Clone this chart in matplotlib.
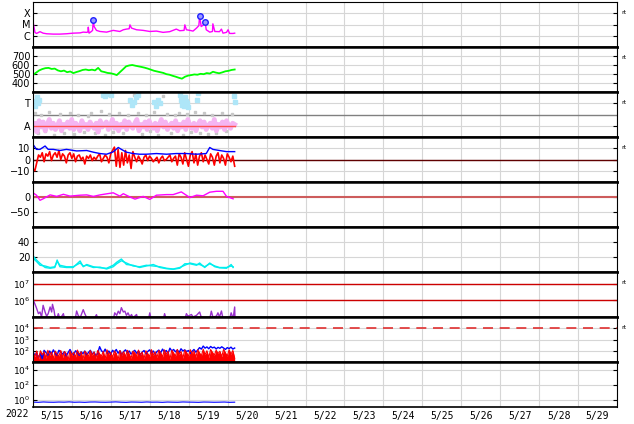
import numpy as np
import matplotlib
matplotlib.use("Agg")
import matplotlib.pyplot as plt

# ---------------- data (time in days since 2022-05-15 00:00) ----------------
day_labels = ["5/15", "5/16", "5/17", "5/18", "5/19", "5/20", "5/21", "5/22",
              "5/23", "5/24", "5/25", "5/26", "5/27", "5/28", "5/29"]
year_label = "2022"
data_end = 5.18

# X-ray flux (W/m^2)
xray_t = [0.00, 0.01, 0.05, 0.09, 0.18, 0.26, 0.35, 0.52, 0.69, 0.86, 1.03, 1.21, 1.29,
          1.38, 1.41, 1.42, 1.44, 1.50, 1.53, 1.55, 1.57, 1.63, 1.72, 1.89, 2.06, 2.23,
          2.32, 2.40, 2.47, 2.49, 2.53, 2.66, 2.83, 3.00, 3.17, 3.34, 3.51, 3.68, 3.77,
          3.88, 3.90, 3.94, 4.03, 4.11, 4.20, 4.26, 4.28, 4.32, 4.38, 4.42, 4.45, 4.54,
          4.61, 4.62, 4.67, 4.79, 4.84, 4.88, 4.97, 5.01, 5.05, 5.14, 5.18]
xray_flux = [2.2e-5, 1.2e-5, 2.0e-6, 1.6e-6, 2.3e-6, 1.7e-6, 1.5e-6, 1.4e-6, 1.4e-6, 1.5e-6,
             1.7e-6, 1.8e-6, 2.1e-6, 2.0e-6, 2.2e-6, 5.8e-6, 1.7e-6, 2.4e-6, 3.0e-6, 2.6e-5,
             6.6e-6, 3.0e-6, 2.4e-6, 2.1e-6, 3.0e-6, 2.4e-6, 3.4e-6, 3.9e-6, 4.2e-6, 9.3e-6,
             4.8e-6, 3.4e-6, 3.0e-6, 2.4e-6, 2.6e-6, 2.0e-6, 2.3e-6, 3.9e-6, 2.8e-6, 3.0e-6,
             9.3e-6, 3.4e-6, 3.0e-6, 2.6e-6, 4.8e-6, 8.0e-6, 5.8e-5, 6.6e-6, 9.3e-6, 1.6e-5,
             3.4e-6, 2.1e-6, 2.4e-6, 1.15e-5, 2.4e-6, 2.3e-6, 3.9e-6, 1.7e-6, 2.0e-6, 3.4e-6,
             1.6e-6, 1.6e-6, 1.7e-6]
flare_t = [1.55, 4.28, 4.42]
flare_flux = [2.6e-5, 5.8e-5, 1.6e-5]

# Solar wind speed (km/s)
speed = [490, 515, 540, 555, 565, 568, 556, 560, 540, 530, 538, 520, 528, 510, 522, 532,
         545, 550, 542, 548, 540, 568, 530, 522, 512, 508, 500, 488, 520, 552, 585, 595,
         600, 592, 585, 578, 570, 560, 548, 536, 528, 520, 512, 498, 492, 480, 470, 458,
         448, 470, 482, 488, 495, 492, 502, 498, 510, 505, 525, 515, 508, 518, 530, 535,
         545, 550]

# IMF phi angle (deg)
phi_away = [60, 110, 40, 130, 80, 120, 50, 100, 140, 70, 110, 60, 90, 130, 50, 100, 80, 120,
            70, 140, 60, 110, 90, 50, 130, 80, 100, 60, 120, 90, 70, 110, 40, 130, 80, 100,
            120, 60, 90, 140, 70, 110, 50, 100, 80, 130, 60, 120, 90, 70, 110, 140, 50, 100,
            80, 120, 60, 130, 90, 70, 110, 50, 100, 140, 80, 120, 60, 90, 110, 70, 130, 50,
            100, 80, 120, 60, 140, 90, 70, 110, 50, 100, 130, 80, 120, 60, 90, 110, 70, 140,
            50, 100, 80, 120, 60, 130, 90, 70, 110, 100]
gray_t = [0.05, 0.12, 0.2, 0.3, 0.4, 0.55, 0.7, 0.8, 0.95, 1.05, 1.15, 1.3, 1.4, 1.5, 1.6,
          1.75, 1.85, 1.95, 2.05, 2.2, 2.3, 2.45, 2.6, 2.7, 2.8, 2.9, 3.0, 3.1, 3.2, 3.35,
          3.45, 3.55, 3.65, 3.75, 3.85, 3.95, 4.05, 4.15, 4.3, 4.4, 4.5, 4.6, 4.7, 4.85,
          4.95, 5.1]
gray_phi = [190, 30, 175, 45, 200, 20, 185, 35, 195, 25, 180, 40, 170, 190, 30, 205, 15, 185,
            40, 195, 30, 175, 340, 190, 25, 180, 45, 200, 20, 330, 185, 35, 175, 195, 20, 185,
            40, 200, 30, 190, 25, 180, 35, 195, 45, 185]
toward_t = [0.05, 0.08, 0.1, 0.13, 0.16, 1.8, 1.85, 1.9, 2.0, 2.5, 2.55, 2.6, 2.65, 2.7,
            3.1, 3.15, 3.2, 3.25, 3.77, 3.8, 3.83, 3.86, 3.88, 3.9, 3.92, 3.95, 3.98,
            4.2, 4.25, 5.17, 5.18]
toward_phi = [250, 290, 320, 270, 300, 340, 330, 345, 335, 300, 260, 280, 320, 340,
              280, 250, 300, 270, 340, 300, 260, 280, 250, 320, 290, 270, 240, 300,
              350, 330, 280]

# IMF Bt and Bz (nT)
bt_t = [0.01, 0.09, 0.18, 0.31, 0.39, 0.52, 0.69, 0.86, 1.12, 1.38, 1.55, 1.72, 1.89, 2.06,
        2.19, 2.27, 2.40, 2.57, 2.74, 2.91, 3.17, 3.43, 3.68, 3.94, 4.20, 4.45, 4.54, 4.62,
        4.79, 4.97, 5.18]
bt = [12.9, 9, 9, 12, 9, 9, 8, 9, 7.6, 8, 6.5, 5.3, 4.7, 6.8, 10.7, 9, 6.5, 5.3, 4.7, 4.7,
      5.3, 4.7, 5.3, 5.3, 4.7, 5.3, 10.7, 9, 8, 7, 7]
bz = [-8, -10, -3, 4, 2, 6, -2, 5, 3, 7, -1, 4, 6, 2, 8, 0, 5, 3, -3, 4, 6, 1, 5, -2, 3, 4,
      0, 2, -4, 3, 1, 4, -1, 2, 0, 3, 5, -2, 1, 4, 2, -3, 5, 8, 11, -6, 9, -7, 6, -5, 8, -3,
      4, -8, 7, 2, -2, 3, 0, -4, 2, 4, -1, 3, 1, -2, 0, 2, -3, 1, 3, -1, 0, 2, 4, -2, 1, 3,
      -5, 5, 2, -4, 6, 0, -6, 4, 7, -3, 5, -5, 3, 6, -2, 4, 0, -4, 5, 2, -5, 3, 6, -3, 4, 1,
      -5, 5, 2, -2, 3, -6]

# Dst (nT)
dst_t = [0.01, 0.09, 0.18, 0.26, 0.44, 0.61, 0.78, 0.95, 1.21, 1.38, 1.55, 1.72, 2.06, 2.23,
         2.32, 2.49, 2.62, 2.83, 3.00, 3.17, 3.43, 3.60, 3.81, 4.03, 4.20, 4.37, 4.54, 4.71,
         4.88, 4.97, 5.14]
dst = [13, 6, -11, -6, 7, 2, 9, 3, 6, 7, 2, 7, 14, 3, 11, 0, -7, 2, -8, 6, 8, 8, 17, -2, 6,
       4, 16, 19, 19, 2, -6]

# Solar wind density (p/cc), two sources
dens_t = [0.01, 0.09, 0.18, 0.31, 0.44, 0.56, 0.62, 0.69, 0.86, 1.03, 1.21, 1.29, 1.38,
          1.55, 1.72, 1.89, 2.06, 2.15, 2.27, 2.40, 2.57, 2.74, 2.91, 3.09, 3.26, 3.43,
          3.60, 3.77, 3.90, 4.03, 4.20, 4.28, 4.41, 4.54, 4.67, 4.79, 4.97, 5.09, 5.14]
dens_a = [21, 16, 11.5, 6, 5, 6, 16, 7, 6, 6, 14.7, 7, 10, 7, 5.6, 5, 9, 13, 17.3, 10, 9, 6,
          8, 10, 6, 4.4, 3.6, 5, 11, 11, 9, 12, 6, 12, 7, 5.6, 5, 10, 6]
dens_b = [18, 14, 9, 8, 6, 7, 14, 9, 7, 7, 12, 8, 9, 6, 6.5, 4, 7, 11, 15, 12, 8, 7, 9, 8,
          7, 5, 4, 6, 9, 12, 10, 10, 7, 11, 8, 6, 6, 8, 7]

# >2 MeV electron flux (log10)
elec_t = [0.01, 0.08, 0.14, 0.18, 0.22, 0.26, 0.31, 0.35, 0.39, 0.44, 0.48, 0.50, 0.54,
          0.56, 0.61, 0.65, 0.69, 0.74, 0.78, 0.82, 1.08, 1.12, 1.16, 1.21, 1.29, 1.33,
          1.38, 1.55, 1.63, 1.68, 2.06, 2.10, 2.15, 2.19, 2.23, 2.27, 2.32, 2.36, 2.40,
          2.44, 2.49, 2.53, 2.57, 2.66, 2.70, 2.96, 3.00, 3.04, 3.34, 3.38, 3.43, 3.90,
          3.94, 3.98, 4.07, 4.11, 4.20, 4.28, 4.32, 4.54, 4.58, 4.62, 4.71, 4.75, 4.79,
          4.84, 4.88, 5.05, 5.09, 5.14, 5.18, 5.19]
elec_log10 = [6.0, 5.6, 5.2, 5.3, 5.0, 5.7, 5.3, 5.05, 5.2, 5.6, 5.3, 5.76, 5.4, 5.1, 4.9,
              5.2, 4.9, 5.05, 5.2, 4.8, 4.8, 5.36, 5.1, 4.95, 5.44, 5.2, 4.95, 4.8, 5.14,
              4.8, 4.85, 5.25, 5.1, 5.35, 5.2, 5.56, 5.3, 5.35, 5.1, 5.25, 5.0, 5.15, 4.95,
              5.15, 4.8, 4.8, 5.25, 4.8, 4.8, 5.2, 4.8, 4.85, 5.2, 5.05, 5.15, 5.0, 5.1,
              5.3, 5.0, 4.9, 5.35, 5.0, 5.05, 5.25, 5.0, 5.36, 4.9, 4.9, 5.25, 4.9, 5.6, 4.8]
elec_thresholds = [1e6, 1e7]

# Proton flux (two channels)
prot_red = [70, 30, 95, 18, 100, 45, 80, 22, 110, 40, 75, 20, 95, 50, 35, 105, 25, 85, 55, 16,
            98, 42, 70, 28, 115, 48, 80, 18, 90, 60, 32, 102, 40, 78, 22, 108, 52, 34, 88, 20,
            120, 45, 72, 26, 96, 58, 17, 105, 42, 82, 30, 110, 50, 22, 92, 65, 34, 115, 45,
            75, 20, 100, 56, 30, 125, 40, 80, 25, 105, 68, 28, 120, 50, 90, 18, 110, 62, 34,
            130, 48, 85, 22, 115, 70, 32, 125, 55, 95, 27, 120, 65, 36, 135, 45, 100, 25,
            128, 72, 40, 115, 56, 90, 30, 130, 66, 34, 122, 50, 105, 22]
prot_blue = [80, 40, 60, 25, 55, 20, 110, 70, 40, 95, 50, 120, 60, 40, 110, 75, 50, 85, 35,
             70, 130, 60, 45, 100, 70, 40, 80, 55, 95, 45, 70, 110, 50, 75, 35, 60, 230, 100,
             70, 140, 60, 95, 50, 110, 75, 130, 60, 100, 45, 85, 120, 70, 95, 50, 80, 110,
             60, 90, 45, 75, 105, 55, 85, 120, 70, 95, 50, 85, 115, 65, 140, 80, 105, 60,
             170, 95, 130, 80, 115, 70, 150, 95, 120, 85, 105, 60, 90, 130, 75, 115, 190,
             140, 260, 170, 220, 150, 240, 180, 210, 145, 200, 165, 225, 175, 130, 190, 155,
             210, 140, 175]
prot_threshold = 1e4

# Neutron / low flux channel
low_flux = [0.45, 0.42, 0.47, 0.44, 0.43, 0.46, 0.44, 0.48, 0.43, 0.45, 0.42, 0.46, 0.47,
            0.44, 0.43, 0.45, 0.48, 0.44, 0.42, 0.46, 0.45, 0.43, 0.47, 0.44, 0.45, 0.42,
            0.46, 0.44, 0.43, 0.47, 0.45, 0.44, 0.42, 0.46, 0.45, 0.43, 0.44, 0.46, 0.42, 0.44]

# ---------------- figure ----------------
fig = plt.figure(figsize=(6.34, 4.24), dpi=100)
gs = fig.add_gridspec(9, 1, left=33/634, right=617/634, top=1-2/424, bottom=1-407/424,
                      hspace=0)
axes = [fig.add_subplot(gs[i, 0]) for i in range(9)]

grid_c = '#d6d6d6'
for i, ax in enumerate(axes):
    ax.set_xlim(0, 15)
    ax.set_xticks(np.arange(0, 16, 1))
    ax.set_xticks(np.arange(0.5, 15, 1), minor=True)
    ax.tick_params(axis='x', which='both', length=0, labelbottom=False)
    ax.tick_params(axis='y', which='major', direction='in', length=3, right=True,
                   labelsize=7, pad=2)
    ax.tick_params(axis='y', which='minor', length=0)
    ax.grid(True, which='major', color=grid_c, lw=0.8)
    ax.set_axisbelow(True)
    ax.spines['left'].set_linewidth(0.8)
    ax.spines['right'].set_linewidth(0.8)
    ax.spines['top'].set_linewidth(0.8 if i == 0 else 1.8)
    ax.spines['bottom'].set_linewidth(1.2 if i == 8 else 1.8)

axes[-1].tick_params(axis='x', which='minor', labelbottom=True, pad=3)
axes[-1].set_xticklabels(day_labels, minor=True, fontsize=7, family='DejaVu Sans Mono')
axes[-1].text(-0.41, -0.155, year_label, transform=axes[-1].get_xaxis_transform(),
              ha='center', va='center', fontsize=7, family='DejaVu Sans Mono')

for i in [0, 1, 2, 3, 6, 7]:
    axes[i].text(1.007, 0.77, 'rt', transform=axes[i].transAxes, fontsize=4.5,
                 va='center', ha='left')

# 1 X-ray
ax = axes[0]
ax.set_yscale('log')
ax.set_ylim(1e-7, 1e-3)
ax.set_yticks([1e-6, 1e-5, 1e-4])
ax.set_yticklabels(['C', 'M', 'X'])
ax.plot(xray_t, xray_flux, color='#ff00ff', lw=1)
ax.plot(flare_t, flare_flux, ls='none', marker='o', ms=4, mfc='#9a9aff', mec='#2020ff',
        mew=1)

# 2 speed
ax = axes[1]
ax.set_ylim(300, 800)
ax.set_yticks([400, 500, 600, 700])
ax.plot(np.linspace(0, data_end, len(speed)), speed, color='#00ff00', lw=1.3)

# 3 phi
ax = axes[2]
ax.set_ylim(0, 360)
ax.set_yticks([90, 270])
ax.set_yticklabels(['A', 'T'])
ax.axhline(180, color='#808080', lw=1)
ax.plot(gray_t, gray_phi, ls='none', marker='s', ms=1.8, color='#c8c8c8')
ax.plot(np.linspace(0, data_end, len(phi_away)), phi_away, color='#f5b5f2', lw=3.5)
ax.plot(toward_t, toward_phi, ls='none', marker='s', ms=2.4, color='#aee6f8')
ax.plot([0, data_end], [90, 90], color='#ff5050', lw=1)

# 4 Bt / Bz
ax = axes[3]
ax.set_ylim(-20, 20)
ax.set_yticks([-10, 0, 10])
ax.axhline(0, color='#600000', lw=1)
ax.plot(np.linspace(0, data_end, len(bz)), bz, color='#ff0000', lw=1.2)
ax.plot(bt_t, bt, color='#0000ff', lw=1)

# 5 Dst
ax = axes[4]
ax.set_ylim(-100, 50)
ax.set_yticks([-50, 0])
ax.axhline(0, color='#cd5c5c', lw=1.5)
ax.plot(dst_t, dst, color='#ff00ff', lw=1)

# 6 density
ax = axes[5]
ax.set_ylim(0, 60)
ax.set_yticks([20, 40])
ax.plot(dens_t, dens_a, color='#00eeee', lw=1)
ax.plot(dens_t, dens_b, color='#00eeee', lw=1)

# 7 electrons
ax = axes[6]
ax.set_yscale('log')
ax.set_ylim(1e5, 5e7)
ax.set_yticks([1e6, 1e7])
for th in elec_thresholds:
    ax.axhline(th, color='#cc0000', lw=1)
ax.plot(elec_t, 10 ** np.array(elec_log10), color='#9932cc', lw=1)

# 8 protons
ax = axes[7]
ax.set_yscale('log')
ax.set_ylim(1e1, 1e5)
ax.set_yticks([1e2, 1e3, 1e4])
ax.axhline(prot_threshold, color='#e03030', lw=1.2, ls=(0, (6, 4)))
tp = np.linspace(0, data_end, len(prot_red))
ax.plot(tp, prot_blue, color='#0000ff', lw=1)
ax.fill_between(tp, 1, prot_red, color='#ff0000', lw=0)
ax.plot(tp, prot_red, color='#ff0000', lw=0.8)

# 9 low flux
ax = axes[8]
ax.set_yscale('log')
ax.set_ylim(1e-1, 1e5)
ax.set_yticks([1, 1e2, 1e4])
ax.plot(np.linspace(0, data_end, len(low_flux)), low_flux, color='#0000ff', lw=0.8)

for ax in axes:
    ax.yaxis.set_minor_locator(matplotlib.ticker.NullLocator())

for ax in axes[6:]:
    for lab in ax.get_yticklabels():
        lab.set_fontsize(6.5)

fig.savefig('out.png', dpi=100)
